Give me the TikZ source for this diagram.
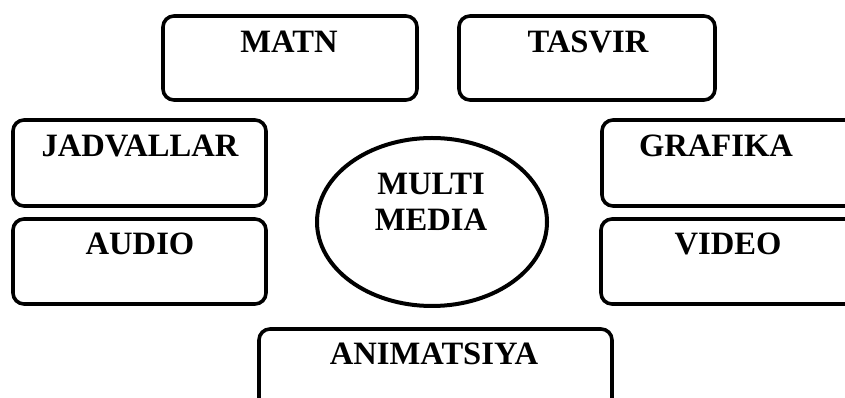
\documentclass[tikz,border=0pt]{standalone}
\usepackage{fontspec}
\setmainfont{Liberation Serif}
\usetikzlibrary{shapes.geometric}
\tikzset{
  box/.style={draw=black, line width=3.6pt, rounded corners=11pt, inner sep=0pt, outer sep=0pt},
  oval/.style={draw=black, line width=4pt, ellipse, inner sep=0pt, outer sep=0pt},
  lbl/.style={anchor=base, inner sep=0pt, font=\fontsize{32.6}{36}\selectfont\bfseries}
}
\begin{document}
\begin{tikzpicture}[x=1pt,y=1pt]
\useasboundingbox (0,0) rectangle (845,398);
\clip (0,0) rectangle (845,398);
% boxes (y = 398 - image y)
\node[box, minimum width=254pt, minimum height=84pt] (matn) at (290,340) {};
\node[box, minimum width=256pt, minimum height=84pt] (tasvir) at (587,340) {};
\node[box, minimum width=253pt, minimum height=86pt] (jadval) at (139.5,235) {};
\node[box, minimum width=253pt, minimum height=85pt] (audio) at (139.5,136.5) {};
\node[box, minimum width=270pt, minimum height=86pt] (grafika) at (737,235) {};
\node[box, minimum width=270pt, minimum height=85pt] (video) at (736,136.5) {};
\node[box, minimum width=353pt, minimum height=90pt] (anim) at (435.5,24) {};
\node[oval, minimum width=230pt, minimum height=168pt] (mm) at (432,176) {};
% labels
\node[lbl] (tmatn) at (289,345) {MATN};
\node[lbl] (ttasvir) at (588,345) {TASVIR};
\node[lbl] (tjadval) at (140,241) {JADVALLAR};
\node[lbl] (taudio) at (140,143) {AUDIO};
\node[lbl] (tgrafika) at (716,241) {GRAFIKA};
\node[lbl] (tvideo) at (728,143) {VIDEO};
\node[lbl] (tanim) at (434,33) {ANIMATSIYA};
\node[lbl] (tmulti) at (431,203) {MULTI};
\node[lbl] (tmedia) at (431,167) {MEDIA};
\end{tikzpicture}
\end{document}
